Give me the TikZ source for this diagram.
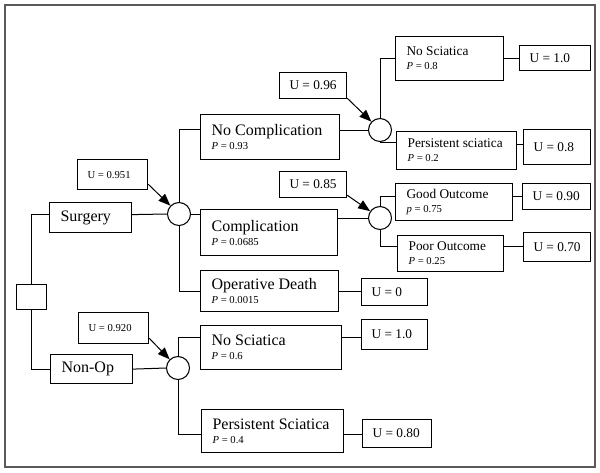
\documentclass[tikz,border=0pt]{standalone}
\usepackage{fontspec}
\setmainfont{Liberation Serif}
\usetikzlibrary{arrows.meta}
\newcommand{\pval}[2][P]{{\fontsize{8}{10.5}\selectfont\textit{#1} = #2}}

\begin{document}
\begin{tikzpicture}[
    x=0.75pt, y=-0.75pt,
    frame/.style={draw=black!65, line width=1.1pt},
    box/.style={draw, line width=0.9pt, anchor=north west, inner xsep=8.25pt, inner ysep=0pt, align=flush left},
    bigbox/.style={box, font=\fontsize{12}{10.5}\selectfont},
    smallbox/.style={box, font=\fontsize{10}{10.5}\selectfont},
    payoff/.style={box, inner xsep=7.5pt, font=\fontsize{10}{12}\selectfont},
    decbox/.style={draw, line width=0.9pt, anchor=north west, inner sep=0pt, minimum width=22.5pt, minimum height=18.75pt},
    chance/.style={circle, draw, line width=0.8pt, fill=white, minimum size=17.25pt, inner sep=0pt},
    link/.style={line width=0.75pt},
    arr/.style={link, -{Triangle[length=9pt,width=7pt]}}
  ]
    \useasboundingbox (0,0) rectangle (600,472);
    \draw[frame] (5,5) rectangle (595,467);

    % decision and first branches
    \node[decbox] (dec) at (16,284) {};
    \node[bigbox, text width=45pt, minimum height=22.5pt] (surg) at (49,202) {Surgery};
    \node[bigbox, text width=45pt, minimum height=21.75pt] (nonop) at (50,354) {Non-Op};
    \node[payoff, font=\fontsize{8}{10}\selectfont, text width=37.5pt, minimum height=22.5pt] (u951) at (77,159) {U~=~0.951};
    \node[payoff, font=\fontsize{8}{10}\selectfont, text width=37.5pt, minimum height=23.25pt] (u920) at (78,312) {U~=~0.920};

    % chance nodes
    \node[chance] (c1) at (179,214) {};
    \node[chance] (c2) at (380,130) {};
    \node[chance] (c3) at (380,218) {};
    \node[chance] (c4) at (178,368) {};

    % surgery outcomes
    \node[bigbox, text width=87.75pt, minimum height=33.75pt] (nocomp) at (200,114) {No Complication\\\pval{0.93}};
    \node[bigbox, text width=86.25pt, minimum height=34.5pt] (comp) at (200,209) {Complication\\\pval{0.0685}};
    \node[bigbox, text width=87pt, minimum height=30.75pt] (opdeath) at (200,270) {Operative Death\\\pval{0.0015}};
    \node[payoff, text width=34.5pt, minimum height=20.25pt] (uzero) at (361,278) {U~=~0};
    \node[payoff, text width=35.25pt, minimum height=19.5pt] (u96) at (279,72) {U~=~0.96};
    \node[payoff, text width=35.25pt, minimum height=19.5pt] (u85) at (279,171) {U~=~0.85};

    % non-op outcomes
    \node[bigbox, text width=89.25pt, minimum height=33pt] (nosciaB) at (200,325) {No Sciatica\\\pval{0.6}};
    \node[bigbox, text width=90pt, minimum height=32.25pt] (perssciaB) at (201,409) {Persistent Sciatica\\\pval{0.4}};
    \node[payoff, text width=34.5pt, minimum height=22.5pt] (uoneB) at (361,319) {U~=~1.0};
    \node[payoff, text width=36.75pt, minimum height=21pt] (ueightyB) at (362,419) {U~=~0.80};

    % second level
    \node[smallbox, text width=64.5pt, minimum height=33pt] (noscia) at (395,36) {No Sciatica\\\pval{0.8}};
    \node[smallbox, text width=73.5pt, minimum height=28.5pt] (persscia) at (396,131) {Persistent sciatica\\\pval{0.2}};
    \node[smallbox, text width=71.25pt, minimum height=27.75pt] (good) at (395,183) {Good Outcome\\\pval[p]{0.75}};
    \node[smallbox, text width=63pt, minimum height=27pt] (poor) at (397,235) {Poor Outcome\\\pval{0.25}};
    \node[payoff, text width=38.25pt, minimum height=18.75pt] (uone) at (519,45) {U~=~1.0};
    \node[payoff, text width=35.25pt, minimum height=26.25pt] (ueight) at (523,129) {U~=~0.8};
    \node[payoff, text width=36pt, minimum height=19.5pt] (unine) at (522,183) {U~=~0.90};
    \node[payoff, text width=35.25pt, minimum height=21.75pt] (useven) at (523,232) {U~=~0.70};

    % tree lines
    \draw[link] (dec.north) |- ([yshift=2.25pt]surg.west);
    \draw[link] (dec.south) |- (nonop.west);
    \draw[link] ([yshift=2.25pt]surg.east) -- (c1.west);
    \draw[link] (c1.north) |- ([yshift=5.625pt]nocomp.west);
    \draw[link] (c1.east) -- (c1.east -| comp.west);
    \draw[link] (c1.south) |- (opdeath.west);
    \draw[link] (opdeath.east) -- (opdeath.east -| uzero.west);
    \draw[link] (c2.west) -- (c2.west -| nocomp.east);
    \draw[link] (c2.north) |- (noscia.west);
    \draw[link] (noscia.east) -- (noscia.east -| uone.west);
    \draw[link] (c2.south) |- ([yshift=6pt]persscia.west);
    \draw[link] ([yshift=4.5pt]persscia.east) -- ([yshift=1.875pt]ueight.west);
    \draw[link] (c3.west) -- (c3.west -| comp.east);
    \draw[link] (c3.north) |- ([yshift=4.125pt]good.west);
    \draw[link] ([yshift=4.125pt]good.east) -- (unine.west);
    \draw[link] (c3.south) |- ([yshift=5.25pt]poor.west);
    \draw[link] ([yshift=5.25pt]poor.east) -- ([yshift=0.375pt]useven.west);
    \draw[link] (nonop.east) -- (c4.west);
    \draw[link] (c4.north) |- ([yshift=7.5pt]nosciaB.west);
    \draw[link] ([yshift=7.5pt]nosciaB.east) -- ([yshift=-2.25pt]uoneB.west);
    \draw[link] (c4.south) |- ([yshift=-2.625pt]perssciaB.west);
    \draw[link] ([yshift=-2.625pt]perssciaB.east) -- ([yshift=-0.75pt]ueightyB.west);

    % value arrows
    \draw[arr] ([yshift=4.5pt]u951.south east) -- (c1);
    \draw[arr] ([yshift=0.75pt]u96.south east) -- (c2);
    \draw[arr] ([yshift=2.25pt]u85.south east) -- (c3);
    \draw[arr] ([yshift=4.5pt]u920.south east) -- (c4);
\end{tikzpicture}
\end{document}
